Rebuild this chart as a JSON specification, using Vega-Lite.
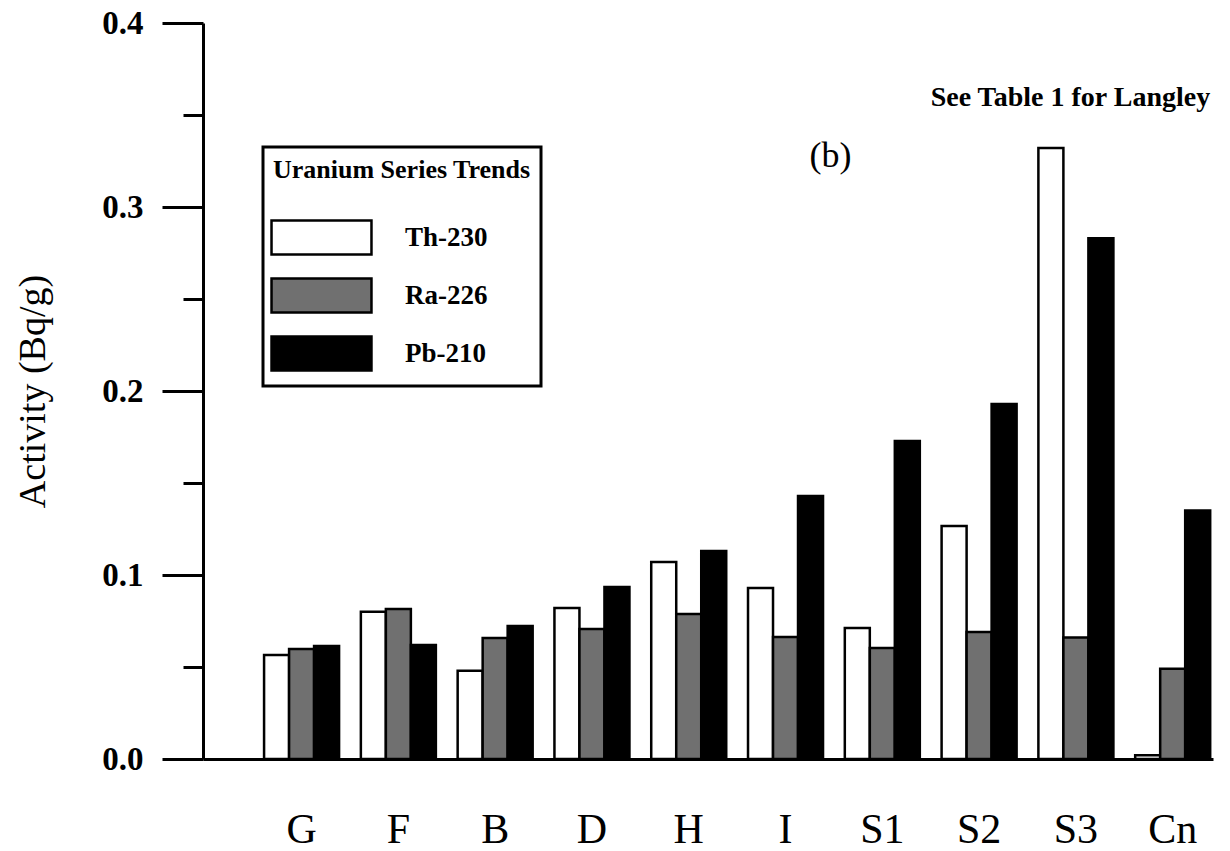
{
  "$schema": "https://vega.github.io/schema/vega-lite/v6.json",
  "width": 1010,
  "height": 736,
  "autosize": {"type": "none"},
  "padding": {"left": 203, "top": 23, "right": 17, "bottom": 92},
  "background": "white",
  "config": {
    "view": {"stroke": null},
    "font": "Liberation Serif",
    "legend": {"strokeWidth": 3}
  },
  "layer": [
    {
      "data": {
        "values": [
          {"site": "G", "isotope": "Th-230", "activity": 0.0565},
          {"site": "G", "isotope": "Ra-226", "activity": 0.0598},
          {"site": "G", "isotope": "Pb-210", "activity": 0.0614},
          {"site": "F", "isotope": "Th-230", "activity": 0.080},
          {"site": "F", "isotope": "Ra-226", "activity": 0.0815},
          {"site": "F", "isotope": "Pb-210", "activity": 0.062},
          {"site": "B", "isotope": "Th-230", "activity": 0.048},
          {"site": "B", "isotope": "Ra-226", "activity": 0.0657},
          {"site": "B", "isotope": "Pb-210", "activity": 0.0723},
          {"site": "D", "isotope": "Th-230", "activity": 0.082},
          {"site": "D", "isotope": "Ra-226", "activity": 0.0707},
          {"site": "D", "isotope": "Pb-210", "activity": 0.0935},
          {"site": "H", "isotope": "Th-230", "activity": 0.107},
          {"site": "H", "isotope": "Ra-226", "activity": 0.0788},
          {"site": "H", "isotope": "Pb-210", "activity": 0.113},
          {"site": "I", "isotope": "Th-230", "activity": 0.093},
          {"site": "I", "isotope": "Ra-226", "activity": 0.0663},
          {"site": "I", "isotope": "Pb-210", "activity": 0.143},
          {"site": "S1", "isotope": "Th-230", "activity": 0.0712},
          {"site": "S1", "isotope": "Ra-226", "activity": 0.0603},
          {"site": "S1", "isotope": "Pb-210", "activity": 0.1728},
          {"site": "S2", "isotope": "Th-230", "activity": 0.1266},
          {"site": "S2", "isotope": "Ra-226", "activity": 0.069},
          {"site": "S2", "isotope": "Pb-210", "activity": 0.193},
          {"site": "S3", "isotope": "Th-230", "activity": 0.332},
          {"site": "S3", "isotope": "Ra-226", "activity": 0.066},
          {"site": "S3", "isotope": "Pb-210", "activity": 0.283},
          {"site": "Cn", "isotope": "Th-230", "activity": 0.002},
          {"site": "Cn", "isotope": "Ra-226", "activity": 0.049},
          {"site": "Cn", "isotope": "Pb-210", "activity": 0.135}
        ]
      },
      "mark": {"type": "bar", "stroke": "black", "strokeWidth": 2.5},
      "encoding": {
        "x": {
          "field": "site",
          "type": "nominal",
          "sort": null,
          "scale": {
            "domain": ["G", "F", "B", "D", "H", "I", "S1", "S2", "S3", "Cn"],
            "paddingInner": 0.225,
            "paddingOuter": 0.33,
            "align": 0.956
          },
          "axis": {
            "title": null,
            "ticks": false,
            "tickSize": 0,
            "domainWidth": 3,
            "domainColor": "black",
            "labelFont": "Liberation Serif",
            "labelFontSize": 42,
            "labelColor": "black",
            "labelPadding": 50,
            "labelAngle": 0,
            "labelDx": 9
          }
        },
        "xOffset": {"field": "isotope", "type": "nominal", "sort": ["Th-230", "Ra-226", "Pb-210"]},
        "y": {
          "field": "activity",
          "type": "quantitative",
          "scale": {"domain": [0, 0.4], "nice": false},
          "axis": {
            "values": [0, 0.05, 0.1, 0.15, 0.2, 0.25, 0.3, 0.35, 0.4],
            "labelExpr": "round(datum.value*20)%2==0 ? format(datum.value,'.1f') : ''",
            "tickSize": {"condition": {"test": "round(datum.value*20)%2==0", "value": 41}, "value": 20},
            "tickWidth": 3,
            "tickColor": "black",
            "domainWidth": 3,
            "domainColor": "black",
            "grid": false,
            "labelFont": "Liberation Serif",
            "labelFontWeight": "bold",
            "labelFontSize": 33,
            "labelColor": "black",
            "labelPadding": 19,
            "title": "Activity (Bq/g)",
            "titleFont": "Liberation Serif",
            "titleFontSize": 38,
            "titleFontWeight": "normal",
            "titleColor": "black",
            "titleAngle": 270,
            "titleAlign": "center",
            "titleBaseline": "alphabetic",
            "titleX": -159,
            "titleY": 368
          }
        },
        "fill": {
          "field": "isotope",
          "type": "nominal",
          "scale": {"domain": ["Th-230", "Ra-226", "Pb-210"], "range": ["#ffffff", "#707070", "#000000"]},
          "legend": {
            "title": "Uranium Series Trends",
            "orient": "none",
            "legendX": 60,
            "legendY": 124,
            "direction": "vertical",
            "strokeColor": "black",
            "fillColor": "white",
            "padding": 10,
            "titleFont": "Liberation Serif",
            "titleFontSize": 26,
            "titleFontWeight": "bold",
            "titleColor": "black",
            "titlePadding": 36,
            "titleLimit": 600,
            "labelFont": "Liberation Serif",
            "labelFontSize": 27,
            "labelFontWeight": "bold",
            "labelColor": "black",
            "labelLimit": 300,
            "symbolType": "M-2.94,-1H2.94V1H-2.94Z",
            "symbolSize": 1156,
            "symbolStrokeColor": "black",
            "symbolStrokeWidth": 2.5,
            "symbolOffset": 30,
            "labelOffset": 65,
            "rowPadding": 13
          }
        }
      }
    },
    {
      "data": {"values": [{"note": "(b)", "site": "I", "activity": 0.322}]},
      "mark": {"type": "text", "font": "Liberation Serif", "fontSize": 36, "align": "center", "baseline": "alphabetic", "color": "black"},
      "encoding": {
        "x": {"field": "site", "type": "nominal", "bandPosition": 1.1},
        "y": {"field": "activity", "type": "quantitative"},
        "text": {"field": "note"}
      }
    },
    {
      "data": {"values": [{"note": "See Table 1 for Langley", "site": "Cn", "activity": 0.355}]},
      "mark": {"type": "text", "font": "Liberation Serif", "fontSize": 28, "fontWeight": "bold", "align": "right", "baseline": "alphabetic", "color": "black"},
      "encoding": {
        "x": {"field": "site", "type": "nominal", "bandPosition": 1},
        "y": {"field": "activity", "type": "quantitative"},
        "text": {"field": "note"}
      }
    }
  ]
}
